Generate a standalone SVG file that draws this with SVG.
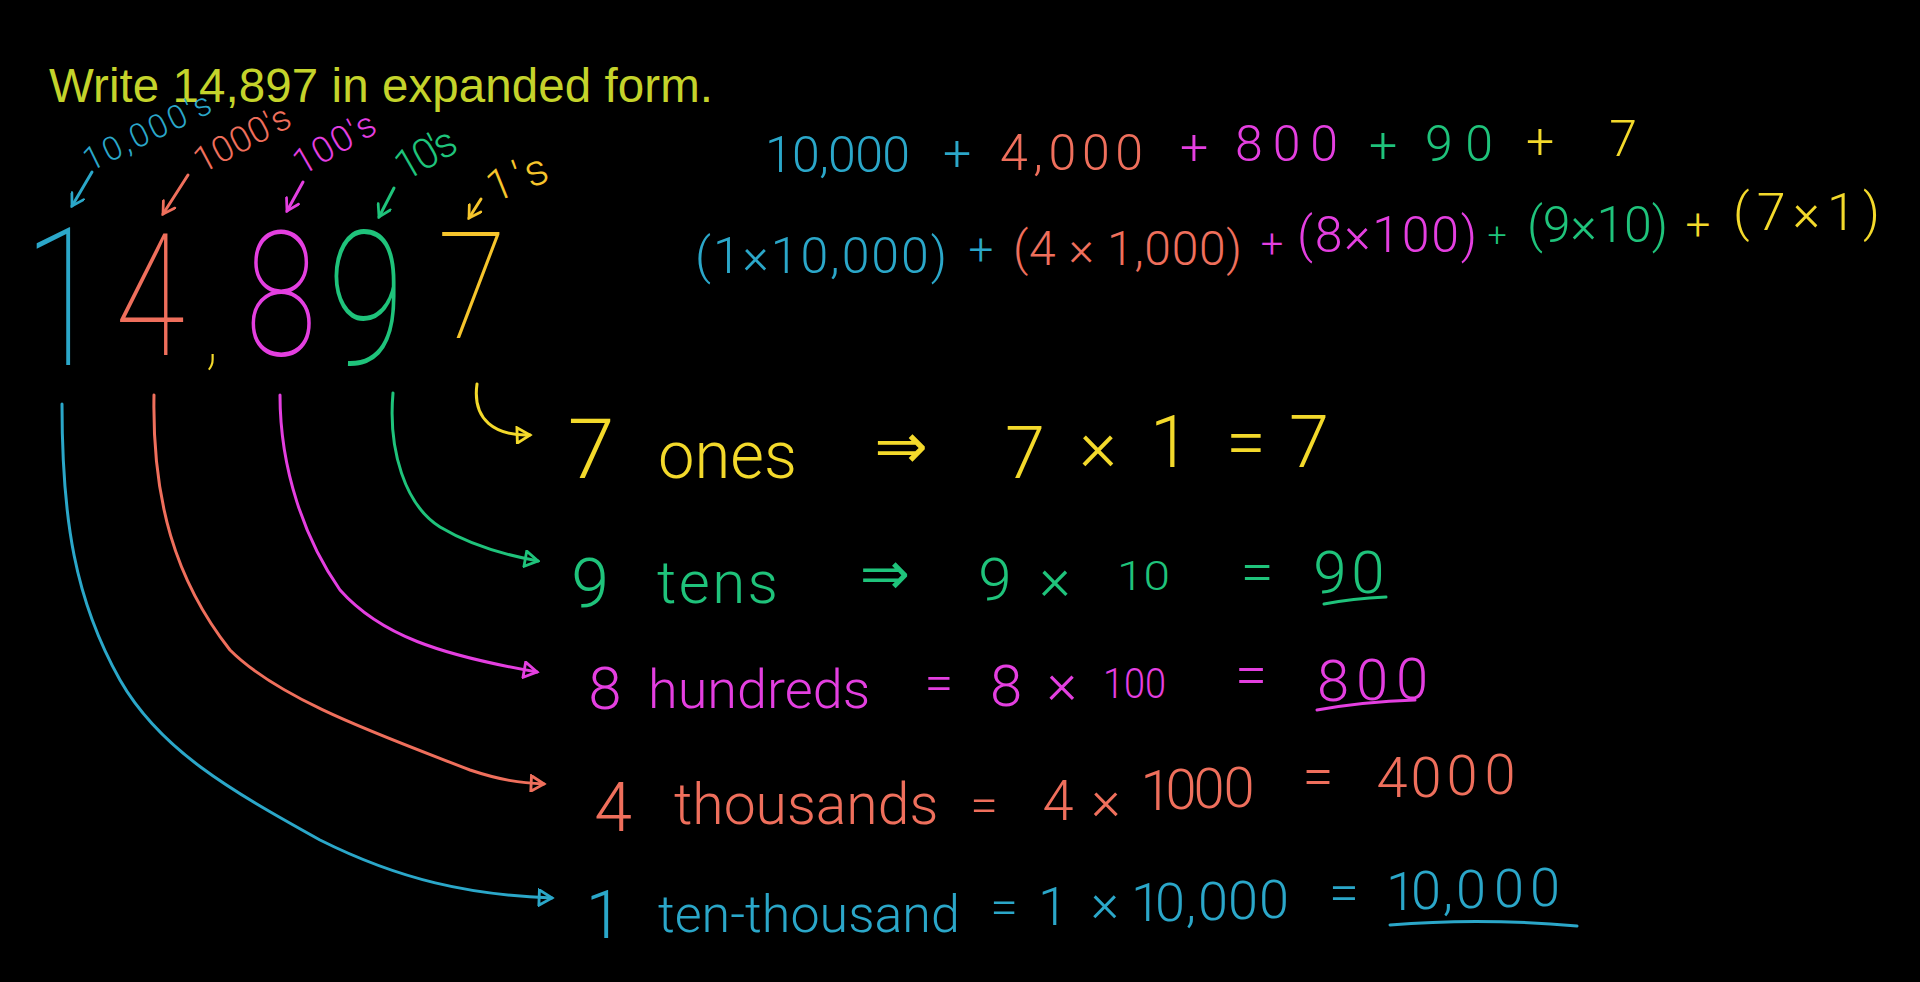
<svg xmlns="http://www.w3.org/2000/svg" width="1920" height="982" viewBox="0 0 1920 982">
<style>
.hw{font-family:Roboto,"Liberation Sans",sans-serif;font-weight:300}
.big{font-family:Roboto,"Liberation Sans",sans-serif;font-weight:100}
.mid{text-anchor:middle}
.b{fill:#2ba7c9}.o{fill:#ef6f5c}.m{fill:#e43fe0}.g{fill:#1fc37b}.y{fill:#f3d92b}.gy{fill:#f6c52c}
.sb{stroke:#2ba7c9}.so{stroke:#ef6f5c}.sm{stroke:#e43fe0}.sg{stroke:#1fc37b}.sy{stroke:#f3d92b}.sgy{stroke:#f6c52c}
.ln{fill:none;stroke-width:3;stroke-linecap:round;stroke-linejoin:round}
</style>
<defs>
<marker id="tb" viewBox="0 0 14 14" refX="12" refY="7" markerWidth="18" markerHeight="18" markerUnits="userSpaceOnUse" orient="auto"><path d="M2,1 L12,7 L2,13 Z" fill="none" stroke="#2ba7c9" stroke-width="2.2"/></marker>
<marker id="to" viewBox="0 0 14 14" refX="12" refY="7" markerWidth="18" markerHeight="18" markerUnits="userSpaceOnUse" orient="auto"><path d="M2,1 L12,7 L2,13 Z" fill="none" stroke="#ef6f5c" stroke-width="2.2"/></marker>
<marker id="tm" viewBox="0 0 14 14" refX="12" refY="7" markerWidth="18" markerHeight="18" markerUnits="userSpaceOnUse" orient="auto"><path d="M2,1 L12,7 L2,13 Z" fill="none" stroke="#e43fe0" stroke-width="2.2"/></marker>
<marker id="tg" viewBox="0 0 14 14" refX="12" refY="7" markerWidth="18" markerHeight="18" markerUnits="userSpaceOnUse" orient="auto"><path d="M2,1 L12,7 L2,13 Z" fill="none" stroke="#1fc37b" stroke-width="2.2"/></marker>
<marker id="ty" viewBox="0 0 14 14" refX="12" refY="7" markerWidth="18" markerHeight="18" markerUnits="userSpaceOnUse" orient="auto"><path d="M2,1 L12,7 L2,13 Z" fill="none" stroke="#f3d92b" stroke-width="2.2"/></marker>
<marker id="vb" viewBox="0 0 14 14" refX="12" refY="7" markerWidth="16" markerHeight="16" markerUnits="userSpaceOnUse" orient="auto"><path d="M2,1 L12,7 L2,13" fill="none" stroke="#2ba7c9" stroke-width="2.4" stroke-linecap="round"/></marker>
<marker id="vo" viewBox="0 0 14 14" refX="12" refY="7" markerWidth="16" markerHeight="16" markerUnits="userSpaceOnUse" orient="auto"><path d="M2,1 L12,7 L2,13" fill="none" stroke="#ef6f5c" stroke-width="2.4" stroke-linecap="round"/></marker>
<marker id="vm" viewBox="0 0 14 14" refX="12" refY="7" markerWidth="16" markerHeight="16" markerUnits="userSpaceOnUse" orient="auto"><path d="M2,1 L12,7 L2,13" fill="none" stroke="#e43fe0" stroke-width="2.4" stroke-linecap="round"/></marker>
<marker id="vg" viewBox="0 0 14 14" refX="12" refY="7" markerWidth="16" markerHeight="16" markerUnits="userSpaceOnUse" orient="auto"><path d="M2,1 L12,7 L2,13" fill="none" stroke="#1fc37b" stroke-width="2.4" stroke-linecap="round"/></marker>
<marker id="vy" viewBox="0 0 14 14" refX="12" refY="7" markerWidth="16" markerHeight="16" markerUnits="userSpaceOnUse" orient="auto"><path d="M2,1 L12,7 L2,13" fill="none" stroke="#f6c52c" stroke-width="2.4" stroke-linecap="round"/></marker>
</defs>
<rect width="1920" height="982" fill="#000"/>

<g id="title">
<text x="49" y="102" font-family="'Liberation Sans',Arial,sans-serif" font-size="47.5" fill="#c4d32b" textLength="664" lengthAdjust="spacing">Write 14,897 in expanded form.</text>
</g>

<g id="number">
<text class="big b mid" font-size="193" transform="translate(63,365) scale(0.75,1)">1</text>
<text class="big o mid" font-size="170" transform="translate(150,355) scale(0.75,1)">4</text>
<text class="big y mid" font-size="80" x="212" y="360">,</text>
<text class="big m mid" font-size="174" transform="translate(281,355) scale(0.75,1)">8</text>
<text class="big g mid" font-size="187" transform="translate(366,364) scale(0.75,1)">9</text>
<text class="big gy mid" font-size="148" transform="translate(472,338) scale(0.85,1)">7</text>
</g>

<g id="labels">
<text class="hw b" font-size="33" transform="translate(90,172) rotate(-26)" textLength="138" lengthAdjust="spacing">10,000's</text>
<text class="hw o" font-size="36" transform="translate(202,174) rotate(-28)" textLength="104" lengthAdjust="spacing">1000's</text>
<text class="hw m" font-size="36" transform="translate(302,176) rotate(-30)" textLength="89" lengthAdjust="spacing">100's</text>
<text class="hw g" font-size="42" transform="translate(405,182) rotate(-30)" textLength="64" lengthAdjust="spacing">10's</text>
<text class="hw gy" font-size="44" transform="translate(494,203) rotate(-22)" textLength="62" lengthAdjust="spacing">1's</text>
</g>

<g id="expanded-sum">
<text class="hw b" font-size="50" x="765" y="172" textLength="145" lengthAdjust="spacing">10,000</text>
<text class="hw b mid" font-size="50" x="957" y="170">+</text>
<text class="hw o" font-size="50" x="1000" y="170" textLength="143" lengthAdjust="spacing">4,000</text>
<text class="hw m mid" font-size="50" x="1194" y="164">+</text>
<text class="hw m" font-size="50" x="1235" y="161" textLength="103" lengthAdjust="spacing">800</text>
<text class="hw g mid" font-size="50" x="1383" y="162">+</text>
<text class="hw g" font-size="50" x="1425" y="161" textLength="68" lengthAdjust="spacing">90</text>
<text class="hw y mid" font-size="50" x="1540" y="158">+</text>
<text class="hw y mid" font-size="50" x="1623" y="156">7</text>
</g>

<g id="expanded-products">
<text class="hw b" font-size="50" x="695" y="273" textLength="252" lengthAdjust="spacing">(1×10,000)</text>
<text class="hw b mid" font-size="44" x="981" y="265">+</text>
<text class="hw o" font-size="48" x="1013" y="265" textLength="229" lengthAdjust="spacing">(4 × 1,000)</text>
<text class="hw m mid" font-size="40" x="1272" y="258">+</text>
<text class="hw m" font-size="50" x="1297" y="252" textLength="180" lengthAdjust="spacing">(8×100)</text>
<text class="hw g mid" font-size="34" x="1497" y="246">+</text>
<text class="hw g" font-size="50" x="1527" y="242" textLength="141" lengthAdjust="spacing">(9×10)</text>
<text class="hw y mid" font-size="44" x="1698" y="240">+</text>
<text class="hw y" font-size="52" x="1733" y="230" textLength="147" lengthAdjust="spacing">(7×1)</text>
</g>

<g id="row-ones">
<text class="hw y mid" font-size="84" x="591" y="478">7</text>
<text class="hw y" font-size="66" x="658" y="478" textLength="139" lengthAdjust="spacingAndGlyphs">ones</text>
<text class="y mid" font-family="'DejaVu Sans',sans-serif" font-size="64" x="901" y="468">⇒</text>
<text class="hw y mid" font-size="72" x="1025 1098 1170 1246 1309" y="478 470 467 467 467">7×1=7</text>
</g>

<g id="row-tens">
<text class="hw g mid" font-size="68" x="590" y="607">9</text>
<text class="hw g" font-size="60" x="657" y="603" textLength="121" lengthAdjust="spacing">tens</text>
<text class="g mid" font-family="'DejaVu Sans',sans-serif" font-size="60" x="885" y="594">⇒</text>
<text class="hw g mid" font-size="60" x="995 1055" y="600 599">9×</text>
<text class="hw g" font-size="40" x="1117" y="590" textLength="53" lengthAdjust="spacingAndGlyphs">10</text>
<text class="hw g mid" font-size="60" x="1257 1330 1368" y="592 593 593">=90</text>
<path class="ln sg" d="M1324,604 C1345,600 1365,598 1386,597"/>
</g>

<g id="row-hundreds">
<text class="hw m mid" font-size="60" x="605" y="709">8</text>
<text class="hw m" font-size="54" x="648" y="708">hundreds</text>
<text class="hw m mid" font-size="52" x="939" y="701">=</text>
<text class="hw m mid" font-size="58" x="1006 1062" y="706 703">8×</text>
<text class="hw m" font-size="42" x="1103" y="698" textLength="63" lengthAdjust="spacingAndGlyphs">100</text>
<text class="hw m mid" font-size="58" x="1251 1333 1372 1412" y="695 701 700 699">=800</text>
<path class="ln sm" d="M1317,710 C1350,704 1385,701 1415,700"/>
</g>

<g id="row-thousands">
<text class="hw o mid" font-size="68" x="613" y="831">4</text>
<text class="hw o" font-size="57" x="674" y="824">thousands</text>
<text class="hw o mid" font-size="50" x="984" y="822">=</text>
<text class="hw o mid" font-size="56" x="1058 1106 1156 1181 1209 1239 1318 1392 1426 1462 1500" y="820 819 810 809 808 807 795 797 797 795 794">4×1000=4000</text>
</g>

<g id="row-tenthousands">
<text class="hw b mid" font-size="66" x="604" y="938">1</text>
<text class="hw b" font-size="52" x="658" y="932">ten-thousand</text>
<text class="hw b mid" font-size="50" x="1004" y="924">=</text>
<text class="hw b mid" font-size="54" x="1053 1105 1146 1170 1191 1213 1243 1274 1344 1401 1426 1448 1471 1509 1545" y="925 921 921 921 921 920 919 918 911 910 909 909 908 907 906">1×10,000=10,000</text>
<path class="ln sb" d="M1390,925 C1450,920 1520,921 1577,926"/>
</g>

<g id="connectors">
<path class="ln sb" d="M92,172 L72,206" marker-end="url(#vb)"/>
<path class="ln so" d="M188,175 L163,214" marker-end="url(#vo)"/>
<path class="ln sm" d="M303,182 L287,211" marker-end="url(#vm)"/>
<path class="ln sg" d="M394,188 L379,217" marker-end="url(#vg)"/>
<path class="ln sgy" d="M481,199 L469,218" marker-end="url(#vy)"/>

<path class="ln sb" d="M62,404 C62,520 75,600 120,680 C160,750 230,790 320,840 C400,880 470,895 552,898" marker-end="url(#tb)"/>
<path class="ln so" d="M154,395 C152,500 175,580 230,650 C280,700 380,735 470,770 C500,780 520,783 544,784" marker-end="url(#to)"/>
<path class="ln sm" d="M280,395 C280,470 305,540 340,590 C380,635 440,655 537,672" marker-end="url(#tm)"/>
<path class="ln sg" d="M393,393 C388,450 405,505 440,527 C470,545 505,555 538,561" marker-end="url(#tg)"/>
<path class="ln sy" d="M477,384 C472,420 495,436 530,435" marker-end="url(#ty)"/>
</g>
</svg>
